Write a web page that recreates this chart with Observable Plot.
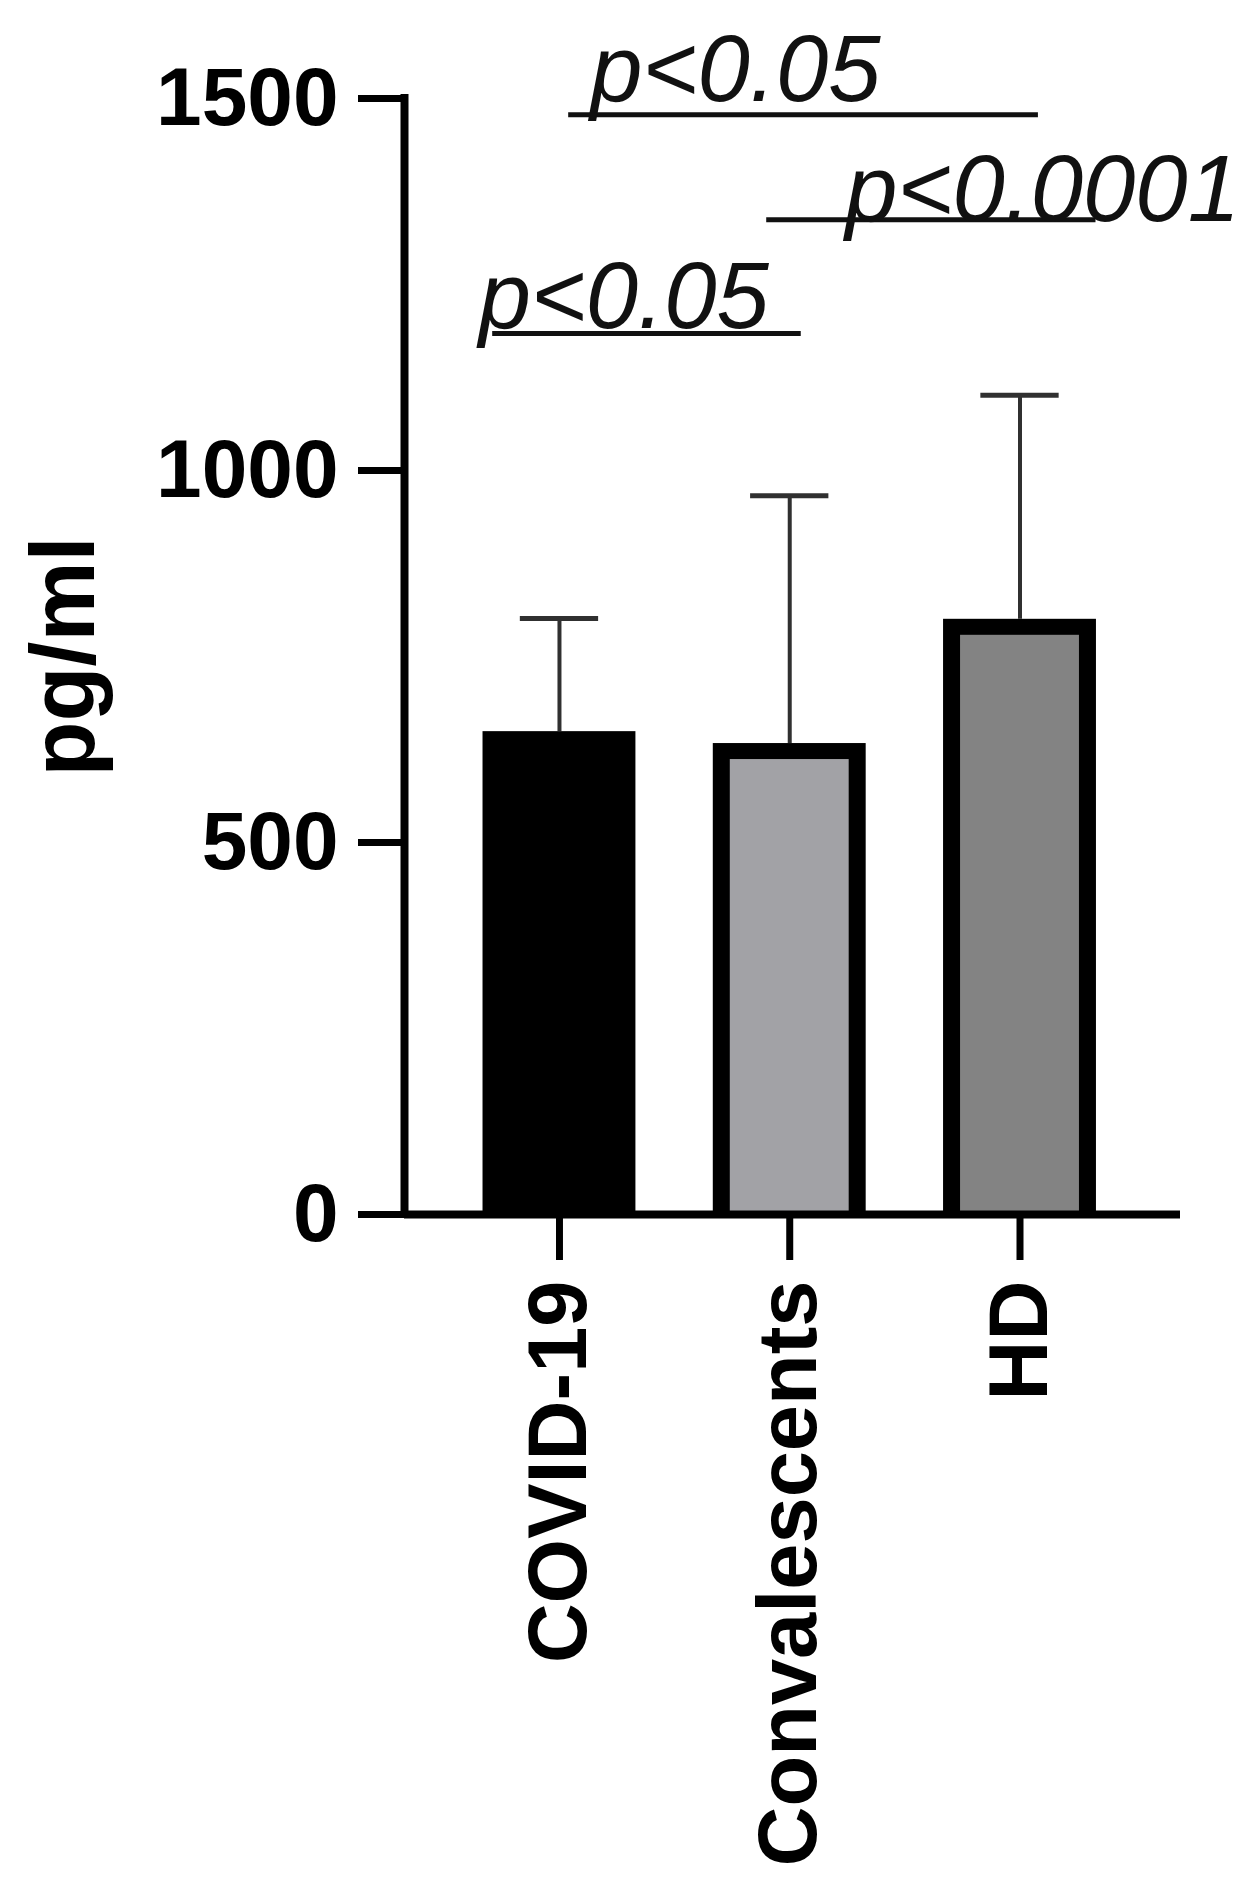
<!DOCTYPE html>
<html><head><meta charset="utf-8">
<script src="https://cdn.jsdelivr.net/npm/d3@7"></script>
<script src="https://cdn.jsdelivr.net/npm/@observablehq/plot@0.6"></script>
<style>html,body{margin:0;padding:0;background:#fff}#chart svg{display:block}</style>
</head><body><div id="chart"></div>
<script>
// ---- data ----
const groups = ["COVID-19", "Convalescents", "HD"];
const means = [649, 633, 800];
const upper = [801, 966, 1101];
const fills = ["#000000", "#a2a2a6", "#838383"];
const yTicks = [0, 500, 1000, 1500];
const yLabel = "pg/ml";
// significance annotations (x in group-index units, y in pg/ml)
const sigLabels = ["p<0.05", "p<0.0001", "p<0.05"];
const sigFrom = [0.04, 0.90, -0.29];
const sigTo = [2.08, 2.33, 1.05];
const sigY = [1478, 1337, 1184];
const sigTextX = [0.134, 1.241, -0.351];
const sigTextY = [1497, 1336, 1191];

const idx = groups.map((_, i) => i);
const sig = sigLabels.map((_, i) => i);
const barHalf = 0.332, capHalf = 0.17;
const xDomain = [-0.673, 2.697];

const chart = Plot.plot({
  width: 1255,
  height: 1893,
  marginLeft: 404,
  marginRight: 75,
  marginTop: 98,
  marginBottom: 679,
  style: {fontFamily: "'Liberation Sans', Arial, sans-serif", fontWeight: "bold", color: "black", background: "white"},
  x: {type: "linear", domain: xDomain},
  y: {domain: [0, 1500]},
  marks: [
    // error bar stems
    Plot.ruleX(idx, {x: i => i, y1: i => means[i], y2: i => upper[i], stroke: "#303030", strokeWidth: 4}),
    // error bar caps
    Plot.ruleY(idx, {y: i => upper[i], x1: i => i - capHalf, x2: i => i + capHalf, stroke: "#303030", strokeWidth: 5}),
    // bar outlines
    Plot.rectY(idx, {x1: i => i - barHalf, x2: i => i + barHalf, y1: 0, y2: i => means[i], fill: "black"}),
    // bar fills
    Plot.rectY(idx, {x1: i => i - barHalf, x2: i => i + barHalf, y1: 0, y2: i => means[i], fill: i => fills[i], insetLeft: 17, insetRight: 17, insetTop: 16}),
    // axes
    Plot.axisY({ticks: yTicks, tickFormat: d => String(d), tickSize: 46, tickPadding: 20, fontSize: 82, strokeWidth: 7, label: null}),
    Plot.ruleX([xDomain[0]], {y1: 0, y2: 1500, strokeWidth: 8, strokeLinecap: "square"}),
    Plot.ruleY([0], {strokeWidth: 8}),
    Plot.axisX({ticks: idx, tickFormat: i => groups[i], tickSize: 46, tickPadding: 20, tickRotate: -90, fontSize: 83, strokeWidth: 7, label: null}),
    Plot.text([yLabel], {frameAnchor: "left", rotate: -90, dx: -311, lineAnchor: "bottom", textAnchor: "middle", fontSize: 90, fontWeight: "bold"}),
    // significance
    Plot.ruleY(sig, {y: i => sigY[i], x1: i => sigFrom[i], x2: i => sigTo[i], stroke: "#111", strokeWidth: 5}),
    Plot.text(sig, {x: i => sigTextX[i], y: i => sigTextY[i], text: i => sigLabels[i], textAnchor: "start", lineAnchor: "bottom", fontSize: 94, fontStyle: "italic", fontWeight: "normal", fill: "#111"})
  ]
});
document.getElementById("chart").appendChild(chart);
</script>
</body></html>
